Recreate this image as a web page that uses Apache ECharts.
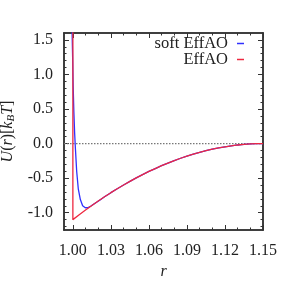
<!DOCTYPE html>
<html><head><meta charset="utf-8">
<script src="https://cdn.jsdelivr.net/npm/echarts@6/dist/echarts.min.js"></script>
<style>html,body{margin:0;padding:0;background:#fff}#c{width:291px;height:291px}</style>
</head><body><div id="c"></div>
<script>
var xTicks = [1.00, 1.03, 1.06, 1.09, 1.12, 1.15];
var xMinorTicks = [0.99, 1.01, 1.02, 1.04, 1.05, 1.07, 1.08, 1.10, 1.11, 1.13, 1.14];
var yTicks = [-1.0, -0.5, 0.0, 0.5, 1.0, 1.5];
var yMinorTicks = [-1.2, -1.1, -0.9, -0.8, -0.7, -0.6, -0.4, -0.3, -0.2, -0.1, 0.1, 0.2, 0.3, 0.4, 0.6, 0.7, 0.8, 0.9, 1.1, 1.2, 1.3, 1.4];

var softR = [0.9993, 0.9998, 1.0002, 1.0008, 1.0014, 1.0020, 1.0030, 1.0043, 1.0059, 1.0077, 1.0098, 1.0120, 1.0140, 1.0160, 1.0190, 1.0220, 1.025, 1.03, 1.035, 1.04, 1.045, 1.05, 1.055, 1.06, 1.065, 1.07, 1.075, 1.08, 1.085, 1.09, 1.095, 1.10, 1.105, 1.11, 1.115, 1.12, 1.125, 1.13, 1.135, 1.14, 1.145, 1.15];
var softU = [1.70, 1.25, 0.85, 0.45, 0.15, -0.07, -0.40, -0.66, -0.81, -0.90, -0.928, -0.925, -0.906, -0.882, -0.846, -0.808, -0.770, -0.710, -0.654, -0.599, -0.547, -0.496, -0.449, -0.403, -0.361, -0.320, -0.282, -0.245, -0.212, -0.181, -0.153, -0.126, -0.103, -0.081, -0.062, -0.046, -0.032, -0.020, -0.012, -0.005, -0.001, 0.0];

var effR = [1.0, 1.0, 1.005, 1.01, 1.015, 1.02, 1.025, 1.03, 1.035, 1.04, 1.045, 1.05, 1.055, 1.06, 1.065, 1.07, 1.075, 1.08, 1.085, 1.09, 1.095, 1.10, 1.105, 1.11, 1.115, 1.12, 1.125, 1.13, 1.135, 1.14, 1.145, 1.15];
var effU = [1.70, -1.10, -1.030, -0.961, -0.895, -0.831, -0.770, -0.710, -0.654, -0.599, -0.547, -0.496, -0.449, -0.403, -0.361, -0.320, -0.282, -0.245, -0.212, -0.181, -0.153, -0.126, -0.103, -0.081, -0.062, -0.046, -0.032, -0.020, -0.012, -0.005, -0.001, 0.0];

var xMin = 0.993, xMax = 1.15, yMin = -1.25, yMax = 1.6;
var FONT = '"Liberation Serif", "DejaVu Serif", serif';
var AX = '#333';
var FS = 16;

function zip(a, b) { return a.map(function (v, i) { return [v, b[i]]; }); }

function xAx(pos, vals, len, labels) {
  return {
    type: 'value', position: pos, min: xMin, max: xMax,
    axisLine: { show: true, onZero: false, lineStyle: { color: AX, width: 1.5 } },
    axisTick: { show: true, inside: true, length: len, customValues: vals, lineStyle: { color: AX, width: 1 } },
    axisLabel: labels ? { show: true, customValues: vals, fontFamily: FONT, fontSize: FS, color: '#222', margin: 13,
      formatter: function (v) { return v.toFixed(2); } } : { show: false },
    splitLine: { show: false },
    name: labels ? 'r' : '', nameLocation: 'middle', nameGap: 28,
    nameTextStyle: { fontFamily: FONT, fontStyle: 'italic', fontSize: FS, color: '#222' }
  };
}
function yAx(pos, vals, len, labels) {
  return {
    type: 'value', position: pos, min: yMin, max: yMax,
    axisLine: { show: true, onZero: false, lineStyle: { color: AX, width: 1.5 } },
    axisTick: { show: true, inside: true, length: len, customValues: vals, lineStyle: { color: AX, width: 1 } },
    axisLabel: labels ? { show: true, customValues: vals, fontFamily: FONT, fontSize: FS, color: '#222', margin: 11,
      formatter: function (v) { return v.toFixed(1); } } : { show: false },
    splitLine: { show: false },
    name: labels ? '{i|U}({i|r})[{i|k}{s|B}{i|T}]' : '', nameLocation: 'middle', nameGap: 40, nameRotate: 90,
    nameTextStyle: { fontFamily: FONT, fontSize: FS, color: '#222',
      rich: { i: { fontFamily: FONT, fontStyle: 'italic', fontSize: FS, color: '#222' },
              s: { fontFamily: FONT, fontStyle: 'italic', fontSize: 11, color: '#222', verticalAlign: 'bottom', padding: [7, 0, 0, 0] } } }
  };
}

var chart = echarts.init(document.getElementById('c'), null, { renderer: 'canvas' });
chart.setOption({
  animation: false,
  backgroundColor: '#fff',
  grid: { left: 64, right: 28, top: 33, bottom: 61, containLabel: false, outerBoundsMode: 'none' },
  xAxis: [xAx('bottom', xTicks, 5, true), xAx('bottom', xMinorTicks, 2.5, false), xAx('top', xTicks, 5, false), xAx('top', xMinorTicks, 2.5, false)],
  yAxis: [yAx('left', yTicks, 5, true), yAx('left', yMinorTicks, 2.5, false), yAx('right', yTicks, 5, false), yAx('right', yMinorTicks, 2.5, false)],
  legend: [
    { data: [{ name: 'soft EffAO', icon: 'rect' }], right: 47, top: 35, padding: 0, align: 'right', itemWidth: 7, itemHeight: 1.5,
      textStyle: { fontFamily: FONT, fontSize: 16.5, color: '#222', padding: [0, 4, 0, 0] } },
    { data: [{ name: 'EffAO', icon: 'rect' }], right: 47, top: 51, padding: 0, align: 'right', itemWidth: 7, itemHeight: 1.5,
      textStyle: { fontFamily: FONT, fontSize: 16.5, color: '#222', padding: [0, 4, 0, 0] } }
  ],
  series: [
    { name: 'zero', type: 'line', data: [[xMin, 0], [xMax, 0]], symbol: 'none', silent: true,
      lineStyle: { color: '#777', width: 1.2, type: [1.5, 1.5] } },
    { name: 'soft EffAO', type: 'line', data: zip(softR, softU), symbol: 'none', clip: true,
      itemStyle: { color: '#3030ff' }, lineStyle: { color: '#3030ff', width: 1.3 } },
    { name: 'EffAO', type: 'line', data: zip(effR, effU), symbol: 'none', clip: true,
      itemStyle: { color: '#ee2840' }, lineStyle: { color: '#ee2840', width: 1.3 } }
  ]
});
</script></body></html>
